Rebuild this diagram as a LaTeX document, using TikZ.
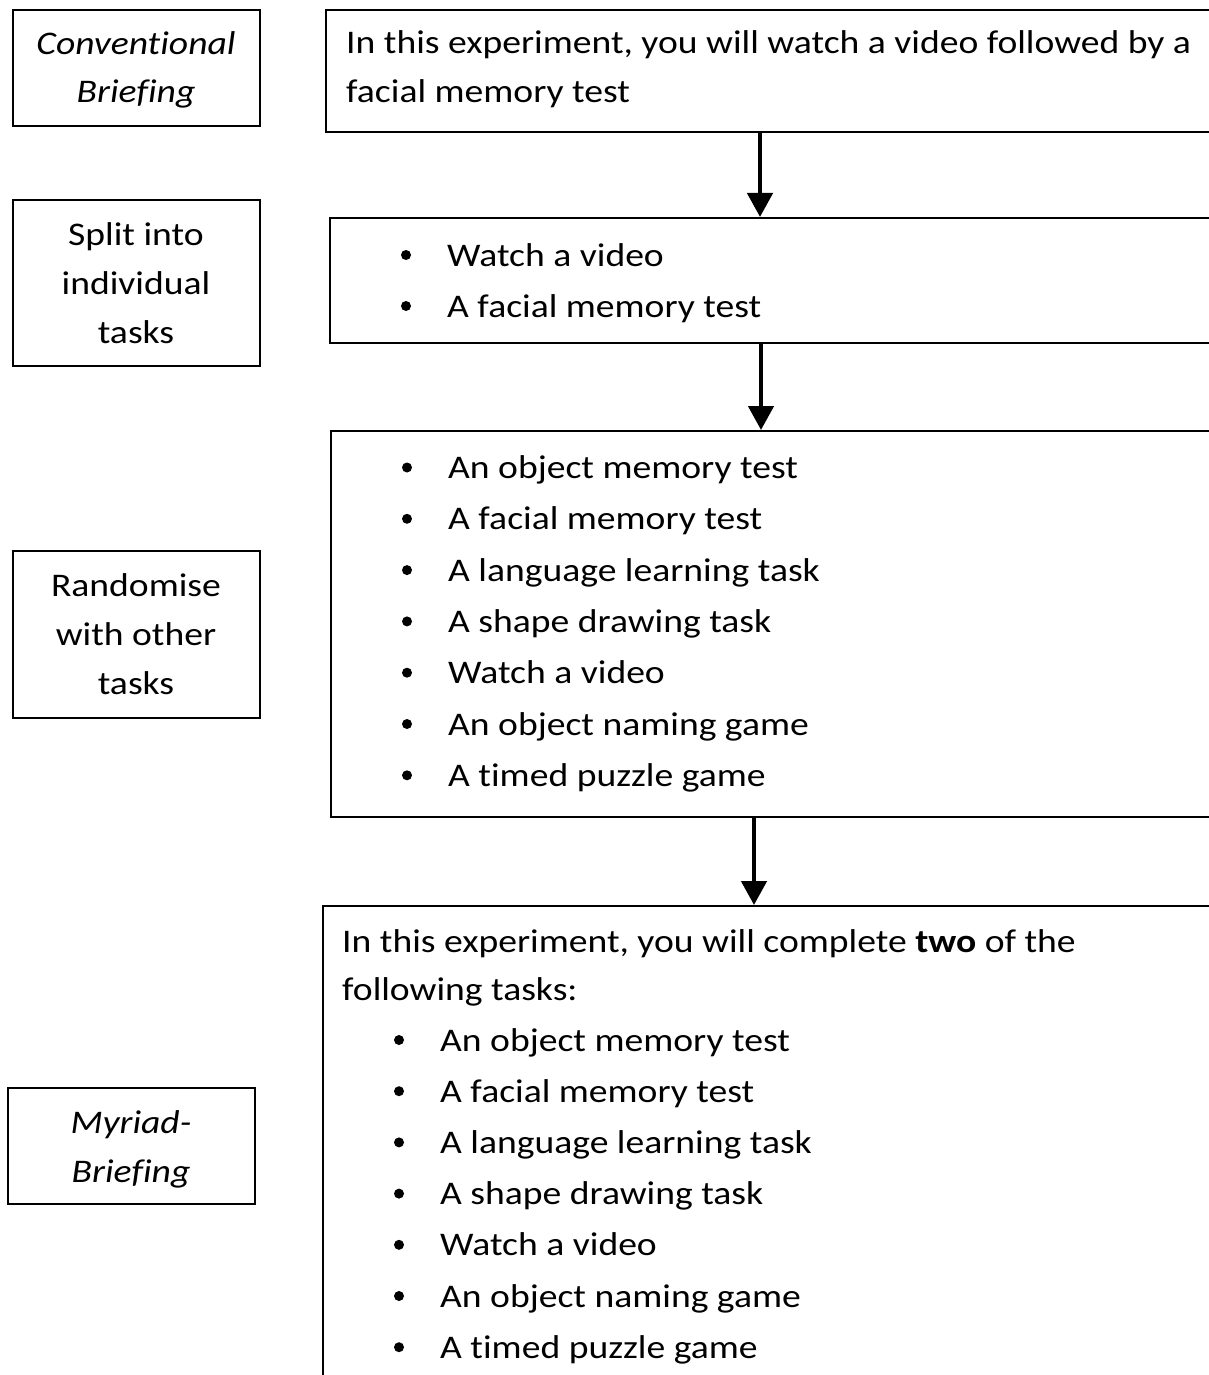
\documentclass[tikz,border=0pt]{standalone}
\usepackage{fontspec}
\setmainfont{Carlito}[FakeStretch=1.14, Ligatures={NoCommon}]
\usetikzlibrary{arrows.meta}
\begin{document}
\begin{tikzpicture}[x=1pt,y=-1pt,
  box/.style={draw=black, line width=1.6pt, inner sep=0pt, anchor=north west},
  txt/.style={inner sep=0pt, font=\fontsize{33}{49}\selectfont},
  ltxt/.style={txt, anchor=base west},
  ctxt/.style={txt, anchor=base},
  flow/.style={line width=4.6pt, -{Triangle[width=25pt,length=24pt]}},
  dot/.style={circle, fill=black, inner sep=0pt, minimum size=10pt}]
\useasboundingbox (0,0) rectangle (1209,1375);
\clip (0,0) rectangle (1209,1375);
\fill[white] (0,0) rectangle (1209,1375);
% left boxes
\node[box, minimum width=247pt, minimum height=116pt] (cb) at (12,9) {};
\node[ctxt] (cb1) at (136,55) {\itshape Conventional};
\node[ctxt] (cb2) at (136,103) {\itshape Briefing};
\node[box, minimum width=247pt, minimum height=166pt] (sp) at (12,199) {};
\node[ctxt] (sp1) at (136,245) {Split into};
\node[ctxt] (sp2) at (136,294) {individual};
\node[ctxt] (sp3) at (136,343) {tasks};
\node[box, minimum width=247pt, minimum height=167pt] (rw) at (12,550) {};
\node[ctxt] (rw1) at (136,596) {Randomise};
\node[ctxt] (rw2) at (136,645) {with other};
\node[ctxt] (rw3) at (136,694) {tasks};
\node[box, minimum width=247pt, minimum height=116pt] (mb) at (7,1087) {};
\node[ctxt] (mb1) at (131,1133) {\itshape Myriad-};
\node[ctxt] (mb2) at (131,1182) {\itshape Briefing};
% right boxes
\node[box, minimum width=920pt, minimum height=122pt] (r1) at (325,9) {};
\node[ltxt] (r1a) at (346,54) {In this experiment, you will watch a video followed by a};
\node[ltxt] (r1b) at (346,103) {facial memory test};
\node[box, minimum width=920pt, minimum height=125pt] (r2) at (329,217) {};
\node[dot] (r2d1) at (406,255) {};
\node[ltxt] (r2a) at (447,266) {Watch a video};
\node[dot] (r2d2) at (406,306) {};
\node[ltxt] (r2b) at (447,317) {A facial memory test};
\node[box, minimum width=920pt, minimum height=386pt] (r3) at (330,430) {};
\foreach \i/\t [count=\k] in {0/An object memory test,1/A facial memory test,2/A language learning task,3/A shape drawing task,4/Watch a video,5/An object naming game,6/A timed puzzle game}{
  \node[dot] (r3d\k) at (407,{467.5+51.3*\i}) {};
  \node[ltxt] (r3t\k) at (448,{478.5+51.3*\i}) {\t};
}
\node[box, minimum width=920pt, minimum height=520pt] (r4) at (322,905) {};
\node[ltxt] (r4a) at (342,952) {In this experiment, you will complete \textbf{two} of the};
\node[ltxt] (r4b) at (342,1000) {following tasks:};
\foreach \i/\t [count=\k] in {0/An object memory test,1/A facial memory test,2/A language learning task,3/A shape drawing task,4/Watch a video,5/An object naming game,6/A timed puzzle game}{
  \node[dot] (r4d\k) at (399,{1040+51.2*\i}) {};
  \node[ltxt] (r4t\k) at (440,{1051+51.2*\i}) {\t};
}
% arrows
\coordinate (a1) at (760,0);
\coordinate (a2) at (761,0);
\coordinate (a3) at (754,0);
\draw[flow] (a1 |- r1.south) -- (a1 |- r2.north);
\draw[flow] (a2 |- r2.south) -- (a2 |- r3.north);
\draw[flow] (a3 |- r3.south) -- (a3 |- r4.north);
\end{tikzpicture}
\end{document}
